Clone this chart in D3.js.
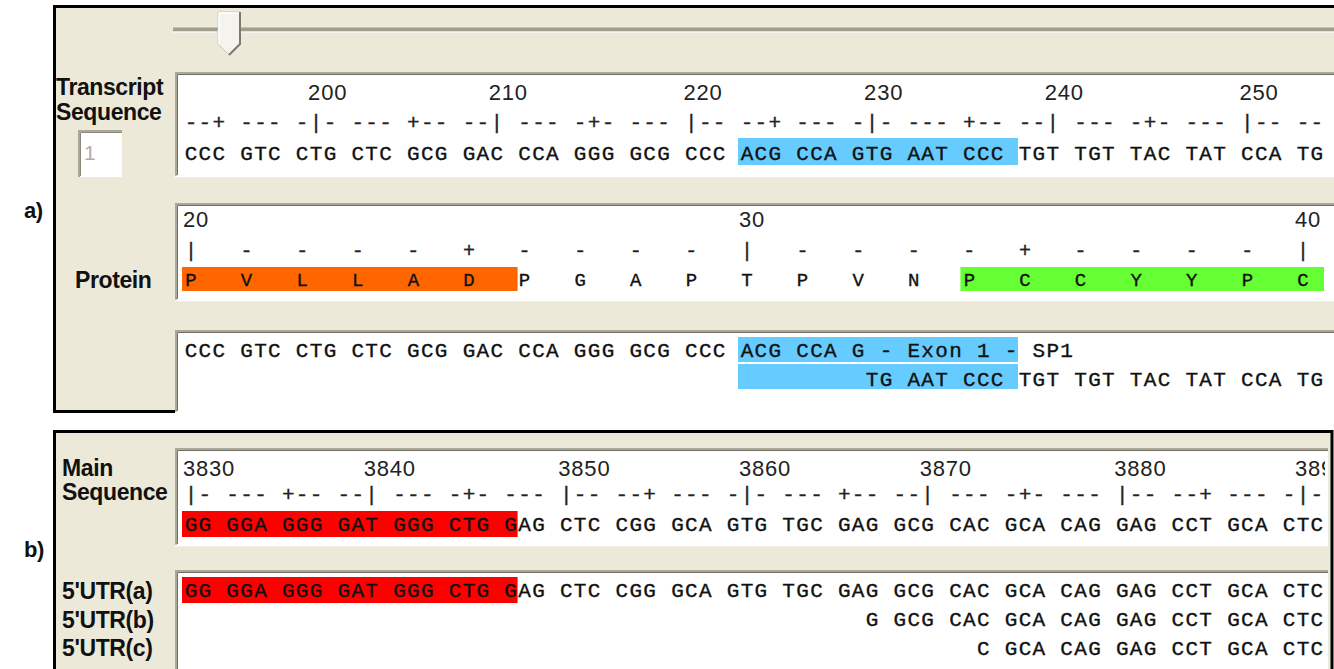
<!DOCTYPE html>
<html>
<head>
<meta charset="utf-8">
<script src="https://cdn.jsdelivr.net/npm/d3@7"></script>
<style>
  body { margin: 0; background: #fff; }
  svg { display: block; }
</style>
</head>
<body>
<div id="chart"></div>
<script>
// ---- data ----
const transcriptStart = 193;
const transcriptCodons = ["CCC","GTC","CTG","CTC","GCG","GAC","CCA","GGG","GCG","CCC","ACG","CCA","GTG","AAT","CCC","TGT","TGT","TAC","TAT","CCA","TG"];
const transcriptHighlight = [223, 237];          // blue block

const proteinStart = 20;
const proteinResidues = ["P","V","L","L","A","D","P","G","A","P","T","P","V","N","P","C","C","Y","Y","P","C"];
const proteinHighlights = [[20, 25], [34, 40]];  // orange, green

const exonLine1Start = 193;
const exonLine1 = "CCC GTC CTG CTC GCG GAC CCA GGG GCG CCC ACG CCA G - Exon 1 - SP1";
const exonLine2Start = 230;
const exonLine2 = "TG AAT CCC TGT TGT TAC TAT CCA TG";

const mainStart = 3830;
const mainCodons = ["GG","GGA","GGG","GAT","GGG","CTG","GAG","CTC","CGG","GCA","GTG","TGC","GAG","GCG","CAC","GCA","CAG","GAG","CCT","GCA","CTC"];
const mainHighlight = [3830, 3847];              // red block

const utrLabels = ["5'UTR(a)", "5'UTR(b)", "5'UTR(c)"];
const utrStarts = [3830, 3867, 3873];

// ---- layout ----
const width = 1334, height = 669;
const beige = "#ece9d8";
const monoFont = "'Courier New', 'Liberation Mono', monospace";
const sansFont = "'Liberation Sans', Arial, sans-serif";

const svg = d3.select("#chart").append("svg")
  .attr("width", width)
  .attr("height", height);

// one character cell = 13.9 px, first cell at x=184
const x = d3.scaleLinear().domain([0, 80]).range([184, 184 + 80 * 13.9]);

// nucleotide offset -> character column (spaces between codons)
function column(k, lead) {
  const kk = k + lead;
  return kk + Math.floor(kk / 3) - lead;
}
function rulerChar(pos) {
  return pos % 10 === 0 ? "|" : (pos % 5 === 0 ? "+" : "-");
}

function drawChars(g, chars, y, size, color) {
  g.selectAll(null)
    .data(chars.filter(d => d.c !== " "))
    .join("text")
    .attr("x", d => x(d.col + 0.5))
    .attr("y", y)
    .attr("text-anchor", "middle")
    .attr("font-family", monoFont)
    .attr("font-size", size)
    .attr("fill", color || "#111")
    .attr("stroke", color || "#111")
    .attr("stroke-width", 0.35)
    .text(d => d.c);
}

function drawNumbers(g, items, y) {
  g.selectAll(null)
    .data(items)
    .join("text")
    .attr("x", d => x(d.col) - 1)
    .attr("y", y)
    .attr("font-family", sansFont)
    .attr("font-size", 22)
    .attr("letter-spacing", 0.8)
    .attr("fill", "#222")
    .text(d => d.label);
}

function sunkenBox(x0, y0, w, h, id) {
  svg.append("rect").attr("x", x0).attr("y", y0).attr("width", w).attr("height", h).attr("fill", "#fff");
  svg.append("path").attr("d", `M${x0 + 1},${y0 + h} V${y0 + 1} H${x0 + w}`)
    .attr("fill", "none").attr("stroke", "#aca899").attr("stroke-width", 2);
  svg.append("path").attr("d", `M${x0 + 2.5},${y0 + h - 1} V${y0 + 2.5} H${x0 + w}`)
    .attr("fill", "none").attr("stroke", "#716f64").attr("stroke-width", 1);
  svg.append("path").attr("d", `M${x0},${y0 + h + 0.5} H${x0 + w}`)
    .attr("fill", "none").attr("stroke", "#fff").attr("stroke-width", 1.5);
  svg.append("clipPath").attr("id", id)
    .append("rect").attr("x", x0 + 3).attr("y", y0 + 3).attr("width", w - 6).attr("height", h - 4);
  return svg.append("g").attr("clip-path", `url(#${id})`);
}

function boldLabel(text, x0, y0, size) {
  svg.append("text")
    .attr("x", x0).attr("y", y0)
    .attr("font-family", sansFont)
    .attr("font-weight", "bold")
    .attr("font-size", size || 23)
    .attr("letter-spacing", -0.4)
    .attr("fill", "#111")
    .text(text);
}

// ---- panel a ----
svg.append("rect").attr("x", 54.5).attr("y", 6.5).attr("width", 1290).attr("height", 405)
  .attr("fill", beige).attr("stroke", "#000").attr("stroke-width", 3);

// slider
svg.append("line").attr("x1", 173).attr("x2", width).attr("y1", 29.5).attr("y2", 29.5)
  .attr("stroke", "#a19e8f").attr("stroke-width", 4);
svg.append("line").attr("x1", 173).attr("x2", width).attr("y1", 32).attr("y2", 32)
  .attr("stroke", "#fff").attr("stroke-width", 1);
svg.append("polygon").attr("points", "218,12 240,12 240,44 229,55 218,44")
  .attr("fill", "#f4f3ee").attr("stroke", "#c9c6b8").attr("stroke-width", 1);
svg.append("polyline").attr("points", "240,12 240,44 229,55")
  .attr("fill", "none").attr("stroke", "#7c7a6e").attr("stroke-width", 2);
svg.append("polyline").attr("points", "219,44 219,13 239,13")
  .attr("fill", "none").attr("stroke", "#fff").attr("stroke-width", 1.5);

// labels
boldLabel("Transcript", 56, 95);
boldLabel("Sequence", 56, 120);
boldLabel("Protein", 75, 288);
boldLabel("a)", 24, 218, 22);

// start index input
svg.append("rect").attr("x", 78).attr("y", 130).attr("width", 44).attr("height", 47).attr("fill", "#fff");
svg.append("path").attr("d", "M79,177 V131 H122").attr("fill", "none").attr("stroke", "#aca899").attr("stroke-width", 2);
svg.append("path").attr("d", "M80.5,176 V132.5 H122").attr("fill", "none").attr("stroke", "#8b897c").attr("stroke-width", 1);
svg.append("text").attr("x", 84).attr("y", 160).attr("font-family", sansFont)
  .attr("font-size", 21).attr("fill", "#b0ada0").text("1");

// transcript box
const tg = sunkenBox(175, 72, width - 175 + 4, 104, "clipT");
const tNts = transcriptCodons.join("").split("").map((c, k) => ({
  c, pos: transcriptStart + k, col: column(k, 0)
}));
const hl0 = column(transcriptHighlight[0] - transcriptStart, 0);
const hl1 = column(transcriptHighlight[1] - transcriptStart, 0);
tg.append("rect")
  .attr("x", x(hl0) - 2)
  .attr("y", 138)
  .attr("width", x(hl1 + 2) - x(hl0) + 2)
  .attr("height", 27)
  .attr("fill", "#66ccff");
drawNumbers(tg, tNts.filter(d => d.pos % 10 === 0).map(d => ({col: d.col, label: d.pos})), 100);
drawChars(tg, tNts.map(d => ({c: rulerChar(d.pos), col: d.col})), 129, 21, "#222");
drawChars(tg, tNts, 160, 21);

// protein box
const pg = sunkenBox(175, 203, width - 175 + 4, 97, "clipP");
const pRes = proteinResidues.map((c, i) => ({c, pos: proteinStart + i, col: 4 * i}));
const pColors = ["#ff6600", "#66ff33"];
proteinHighlights.forEach(([a, b], i) => {
  const c0 = pRes.find(d => d.pos === a).col;
  const c1 = pRes.find(d => d.pos === b).col;
  pg.append("rect")
    .attr("x", x(c0) - 2)
    .attr("y", 267)
    .attr("width", Math.min(x(c1 + 4), 1324) - x(c0) + 2)
    .attr("height", 24)
    .attr("fill", pColors[i]);
});
drawNumbers(pg, pRes.filter(d => d.pos % 10 === 0).map(d => ({col: d.col, label: d.pos})), 227);
drawChars(pg, pRes.map(d => ({c: rulerChar(d.pos), col: d.col})), 257, 20, "#222");
drawChars(pg, pRes, 286, 19);

// exon / genomic alignment box
const eg = sunkenBox(175, 330, width - 175 + 4, 82, "clipE");
[337, 364].forEach(y0 => {
  eg.append("rect").attr("x", x(hl0) - 2).attr("y", y0)
    .attr("width", x(hl1 + 2) - x(hl0) + 2).attr("height", 25)
    .attr("fill", "#66ccff");
});
const line1Col = column(exonLine1Start - transcriptStart, 0);
const line2Col = column(exonLine2Start - transcriptStart, 0);
drawChars(eg, exonLine1.split("").map((c, i) => ({c, col: line1Col + i})), 357, 21);
drawChars(eg, exonLine2.split("").map((c, i) => ({c, col: line2Col + i})), 386, 21);

// ---- panel b ----
svg.append("rect").attr("x", 54.5).attr("y", 431.5).attr("width", 1277.5).attr("height", 260)
  .attr("fill", beige).attr("stroke", "#000").attr("stroke-width", 3);

boldLabel("Main", 62, 476);
boldLabel("Sequence", 62, 500);
utrLabels.forEach((t, i) => boldLabel(t, 62, 599 + i * 28.5));
boldLabel("b)", 24, 557, 22);

const mainSeq = mainCodons.join("").split("");
const lead = 3 - mainCodons[0].length;
const mNts = mainSeq.map((c, k) => ({c, pos: mainStart + k, col: column(k, lead)}));
const mh0 = mNts.find(d => d.pos === mainHighlight[0]).col;
const mh1 = mNts.find(d => d.pos === mainHighlight[1]).col;

const mg = sunkenBox(175, 448, 1153, 97, "clipM");
mg.append("rect").attr("x", x(mh0) - 2).attr("y", 511)
  .attr("width", x(mh1 + 1) - x(mh0) + 2).attr("height", 26).attr("fill", "#ff0000");
drawNumbers(mg, mNts.filter(d => d.pos % 10 === 0).map(d => ({col: d.col, label: d.pos})), 476);
drawChars(mg, mNts.map(d => ({c: rulerChar(d.pos), col: d.col})), 501, 21, "#222");
drawChars(mg, mNts, 531, 21);

const ug = sunkenBox(175, 570, 1153, 110, "clipU");
ug.append("rect").attr("x", x(mh0) - 2).attr("y", 577)
  .attr("width", x(mh1 + 1) - x(mh0) + 2).attr("height", 26).attr("fill", "#ff0000");
utrStarts.forEach((s, i) => {
  drawChars(ug, mNts.filter(d => d.pos >= s), 597 + i * 29, 21);
});
</script>
</body>
</html>
